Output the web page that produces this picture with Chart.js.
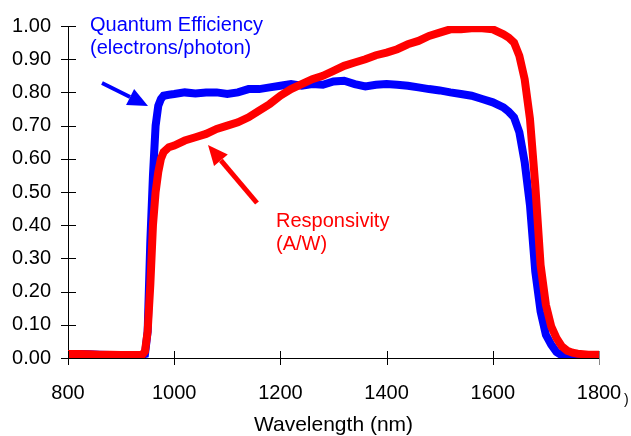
<!DOCTYPE html>
<html>
<head>
<meta charset="utf-8">
<script src="https://cdn.jsdelivr.net/npm/chart.js@4.4.1/dist/chart.umd.min.js"></script>
<style>
  html, body { margin: 0; padding: 0; background: #fff; }
  #wrap { width: 631px; height: 436px; }
</style>
</head>
<body>
<div id="wrap"><canvas id="qe-chart" width="631" height="436"></canvas></div>
<script>
// wavelength (nm)
const wavelengths = [800, 820, 840, 860, 880, 900, 920, 940,
  945, 950, 955, 960, 965, 970, 975, 980, 990,
  1000, 1020, 1040, 1060, 1080, 1100, 1120, 1140, 1160, 1180, 1200, 1220, 1240, 1260, 1280, 1300,
  1320, 1340, 1360, 1380, 1400, 1420, 1440, 1460, 1480, 1500, 1520, 1540, 1560, 1580, 1600, 1620,
  1630, 1640, 1650, 1660, 1670, 1680, 1690, 1700, 1710, 1720, 1730, 1740, 1750, 1760,
  1780, 1800];

// quantum efficiency (electrons/photon)
const qeValues = [0.012, 0.012, 0.011, 0.010, 0.009, 0.009, 0.009, 0.010,
  0.012, 0.08, 0.35, 0.55, 0.70, 0.76, 0.78, 0.79, 0.793,
  0.795, 0.80, 0.797, 0.80, 0.80, 0.795, 0.80, 0.81, 0.81, 0.815, 0.82, 0.825, 0.82, 0.825, 0.823, 0.833,
  0.835, 0.825, 0.818, 0.823, 0.825, 0.823, 0.82, 0.815, 0.81, 0.806, 0.80, 0.795, 0.79, 0.78, 0.77, 0.755,
  0.742, 0.725, 0.68, 0.59, 0.46, 0.26, 0.14, 0.07, 0.04, 0.018, 0.008, 0.002, 0.0, 0.0,
  0.0, 0.0];

// responsivity (A/W)
const respValues = [0.012, 0.012, 0.011, 0.010, 0.010, 0.009, 0.009, 0.010,
  0.02, 0.08, 0.22, 0.40, 0.50, 0.56, 0.60, 0.62, 0.635,
  0.64, 0.655, 0.665, 0.675, 0.69, 0.70, 0.71, 0.725, 0.745, 0.765, 0.79, 0.81, 0.825, 0.84, 0.85, 0.865,
  0.88, 0.89, 0.90, 0.912, 0.92, 0.93, 0.945, 0.955, 0.97, 0.98, 0.99, 0.99, 0.993, 0.993, 0.99, 0.975,
  0.965, 0.95, 0.91, 0.84, 0.72, 0.52, 0.28, 0.16, 0.095, 0.06, 0.035, 0.022, 0.016, 0.013,
  0.01, 0.01];

const FONT = "'Liberation Sans', Arial, Helvetica, sans-serif";

function toPoints(xs, ys) {
  return xs.map(function (x, i) { return { x: x, y: ys[i] }; });
}

// tick marks that cross the axis lines, plus the text labels and arrows
const extras = {
  id: 'extras',
  afterDraw: function (chart) {
    const ctx = chart.ctx;
    const xs = chart.scales.x, ys = chart.scales.y;
    const area = chart.chartArea;
    ctx.save();
    ctx.lineWidth = 1;
    ctx.strokeStyle = '#000';
    ys.ticks.forEach(function (t) {
      const py = Math.round(ys.getPixelForValue(t.value)) + 0.5;
      ctx.beginPath();
      ctx.moveTo(area.left - 7, py);
      ctx.lineTo(area.left + 8, py);
      ctx.stroke();
    });
    xs.ticks.forEach(function (t) {
      const px = Math.round(xs.getPixelForValue(t.value)) + 0.5;
      ctx.strokeStyle = t.value === 1800 ? '#888' : '#000';
      ctx.beginPath();
      ctx.moveTo(px, area.bottom - 7);
      ctx.lineTo(px, area.bottom + 7);
      ctx.stroke();
    });

    ctx.font = '20px ' + FONT;
    ctx.textBaseline = 'alphabetic';
    ctx.textAlign = 'left';
    ctx.fillStyle = '#0000FF';
    ctx.fillText('Quantum Efficiency', 90, 31);
    ctx.fillText('(electrons/photon)', 90, 54);
    ctx.fillStyle = '#FF0000';
    ctx.fillText('Responsivity', 276, 227);
    ctx.fillText('(A/W)', 276, 250);

    ctx.fillStyle = '#000';
    ctx.font = '14px ' + FONT;
    ctx.fillText(')', 624, 404);

    drawArrow(ctx, 102, 83, 148, 106, '#0000FF', 4);
    drawArrow(ctx, 257, 203, 208, 145, '#FF0000', 5);
    ctx.restore();
  }
};

function drawArrow(ctx, x1, y1, x2, y2, color, w) {
  const ang = Math.atan2(y2 - y1, x2 - x1);
  const headLen = 20, headW = 9;
  const bx = x2 - headLen * Math.cos(ang), by = y2 - headLen * Math.sin(ang);
  ctx.strokeStyle = color;
  ctx.fillStyle = color;
  ctx.lineWidth = w;
  ctx.beginPath();
  ctx.moveTo(x1, y1);
  ctx.lineTo(bx, by);
  ctx.stroke();
  ctx.beginPath();
  ctx.moveTo(x2, y2);
  ctx.lineTo(bx + headW * Math.sin(ang), by - headW * Math.cos(ang));
  ctx.lineTo(bx - headW * Math.sin(ang), by + headW * Math.cos(ang));
  ctx.closePath();
  ctx.fill();
}

new Chart(document.getElementById('qe-chart'), {
  type: 'line',
  data: {
    datasets: [{
      label: 'Quantum Efficiency (electrons/photon)',
      data: toPoints(wavelengths, qeValues),
      borderColor: '#0000FF',
      borderWidth: 8,
      pointRadius: 0,
      tension: 0,
      order: 2
    }, {
      label: 'Responsivity (A/W)',
      data: toPoints(wavelengths, respValues),
      borderColor: '#FF0000',
      borderWidth: 8,
      pointRadius: 0,
      tension: 0,
      order: 1
    }]
  },
  options: {
    responsive: false,
    devicePixelRatio: 1,
    animation: false,
    layout: { padding: { top: 26, right: 32, left: 0, bottom: 0 } },
    plugins: { legend: { display: false }, tooltip: { enabled: false } },
    scales: {
      x: {
        type: 'linear',
        min: 800,
        max: 1800,
        afterFit: function (s) { s.height = 78; s.paddingLeft = 0; s.paddingRight = 0; },
        ticks: {
          stepSize: 200,
          padding: 23,
          color: '#000',
          maxRotation: 0,
          font: { family: FONT, size: 20 },
          callback: function (v) { return String(v); }
        },
        grid: { drawOnChartArea: false, drawTicks: false },
        border: { display: true, color: '#000', width: 1 },
        title: {
          display: true,
          text: 'Wavelength (nm)',
          color: '#000',
          padding: { top: 0, bottom: 0 },
          font: { family: FONT, size: 21, lineHeight: 1 }
        }
      },
      y: {
        min: 0,
        max: 1,
        afterFit: function (s) { s.width = 68; s.paddingTop = 0; s.paddingBottom = 0; },
        ticks: {
          stepSize: 0.1,
          padding: 17,
          color: '#000',
          font: { family: FONT, size: 20 },
          callback: function (v) { return v.toFixed(2); }
        },
        grid: { drawOnChartArea: false, drawTicks: false },
        border: { display: true, color: '#000', width: 1 }
      }
    }
  },
  plugins: [extras]
});
</script>
</body>
</html>
